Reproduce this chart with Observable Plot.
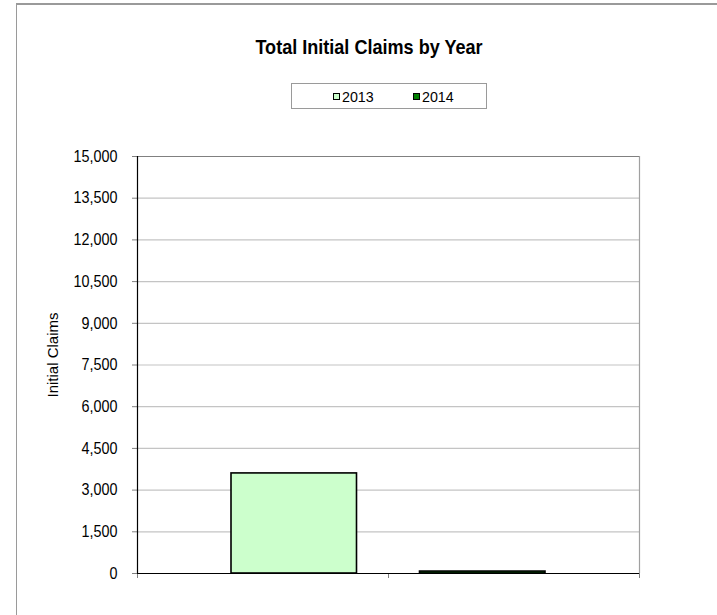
<!DOCTYPE html>
<html><head><meta charset="utf-8">
<script src="https://cdn.jsdelivr.net/npm/d3@7"></script>
<script src="https://cdn.jsdelivr.net/npm/@observablehq/plot@0.6"></script>
<style>
html,body{margin:0;padding:0;background:#fff;}
body{width:717px;height:615px;overflow:hidden;position:relative;font-family:"Liberation Sans",Arial,sans-serif;color:#000;}
#frame{position:absolute;left:16px;top:3px;width:720px;height:640px;border-left:1px solid #9a9a9a;border-top:2px solid #9a9a9a;box-sizing:border-box;}
#title{position:absolute;left:369px;top:35px;transform:translateX(-50%) scaleX(0.86);white-space:nowrap;font-weight:bold;font-size:21px;}
#legend{position:absolute;left:291px;top:83px;width:196px;height:26px;box-sizing:border-box;border:1px solid #9a9a9a;font-size:15px;}
#legend .item{position:absolute;top:4px;display:flex;align-items:center;}
#legend .sw{width:5px;height:5px;border:1.5px solid #000;margin-right:2px;}
#legend .lab{display:inline-block;transform:scaleX(0.95);transform-origin:left center;}
#chart{position:absolute;left:0;top:120px;}
</style></head>
<body>
<div id="frame"></div>
<div id="title"></div>
<div id="legend"></div>
<div id="chart"></div>
<script>
const years = ["2013", "2014"];
const claims = [3600, 70];
const colors = ["#ccffcc", "#008000"];
const yTicks = [0, 1500, 3000, 4500, 6000, 7500, 9000, 10500, 12000, 13500, 15000];
const yLabel = "Initial Claims";
const titleText = "Total Initial Claims by Year";

document.getElementById("title").textContent = titleText;
const legend = document.getElementById("legend");
const legendLeft = [41, 121];
years.forEach((y, i) => {
  const item = document.createElement("div");
  item.className = "item";
  item.style.left = legendLeft[i] + "px";
  const sw = document.createElement("span");
  sw.className = "sw";
  sw.style.background = colors[i];
  const t = document.createElement("span");
  t.className = "lab";
  t.textContent = y;
  item.appendChild(sw); item.appendChild(t);
  legend.appendChild(item);
});

const data = years.map((year, i) => ({year, i, claims: claims[i]}));
const xDomain = [0, years.length];
const yMax = yTicks[yTicks.length - 1];
const insets = [[94, 31.5], [31.5, 94]];
const mL = 137, tickSize = 5, tickPad = 15;

const marks = [
  Plot.gridY(yTicks, {stroke: "#c4c4c4", strokeOpacity: 1, strokeWidth: 1.2}),
  Plot.axisY(yTicks, {tickSize, tickPadding: tickPad, tickFormat: d3.format(","), stroke: "#808080",
    label: yLabel, labelAnchor: "center", labelArrow: "none", labelOffset: 90}),
  Plot.axisX(d3.range(years.length + 1), {tickSize: 5, tickFormat: () => "", stroke: "#808080", label: null}),
  Plot.ruleX([xDomain[1]], {stroke: "#a0a0a0", strokeWidth: 1.2}),
  Plot.ruleY([yMax], {stroke: "#808080", strokeWidth: 1.2})
];
data.forEach((d, k) => {
  marks.push(Plot.rect([d], {x1: "i", x2: v => v.i + 1, y1: 0, y2: "claims",
    fill: colors[k], stroke: "#000", strokeWidth: 1.6,
    insetLeft: insets[k][0], insetRight: insets[k][1]}));
});
marks.push(Plot.ruleY([0], {stroke: "#000", strokeWidth: 1.2}));
marks.push(Plot.ruleX([xDomain[0]], {stroke: "#000", strokeWidth: 1.2}));

const plot = Plot.plot({
  width: 717, height: 480,
  marginLeft: mL, marginRight: 78, marginTop: 36, marginBottom: 27,
  style: {fontFamily: '"Liberation Sans",Arial,sans-serif', fontSize: "16.5px", color: "#000", background: "transparent", overflow: "visible"},
  x: {domain: xDomain},
  y: {domain: [0, yMax]},
  marks
});
// condense tick labels (narrow typeface look) around their right edge
const X = mL - tickSize - tickPad;
plot.querySelectorAll('g[aria-label="y-axis tick label"]').forEach(g => {
  const t = g.getAttribute("transform") || "";
  g.setAttribute("transform", `translate(${X},0) scale(0.87,1) translate(${-X},0) ${t}`);
});
plot.querySelectorAll('g[aria-label="y-axis label"]').forEach(g => {
  const t = g.getAttribute("transform") || "";
  g.setAttribute("transform", `translate(0,-10) ${t}`);
  g.setAttribute("font-size", "15px");
});
document.getElementById("chart").appendChild(plot);
</script>
</body></html>
